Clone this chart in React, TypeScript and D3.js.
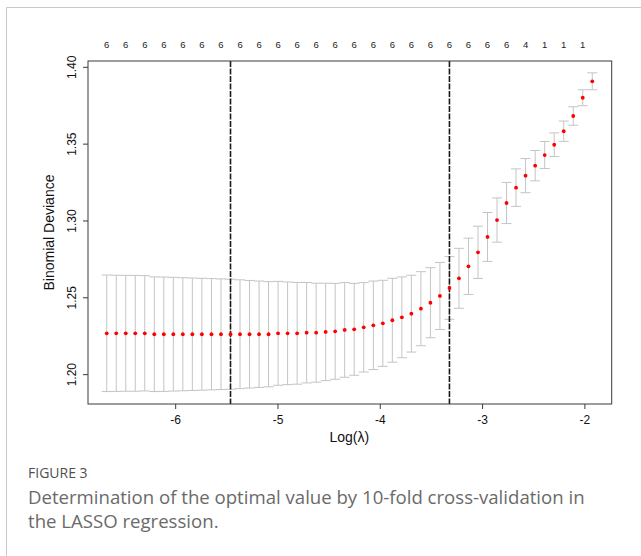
import { useEffect, useRef } from 'react';
import * as d3 from 'd3';

// log(lambda) grid of the cv.glmnet fit
const logLambda = [
  -6.674, -6.581, -6.488, -6.395, -6.302, -6.209, -6.116, -6.023, -5.93, -5.837,
  -5.744, -5.65, -5.557, -5.464, -5.371, -5.278, -5.185, -5.092, -4.999, -4.906,
  -4.813, -4.72, -4.627, -4.534, -4.441, -4.348, -4.255, -4.162, -4.068, -3.975,
  -3.882, -3.789, -3.696, -3.603, -3.51, -3.417, -3.324, -3.231, -3.138, -3.045,
  -2.952, -2.859, -2.766, -2.673, -2.58, -2.486, -2.393, -2.3, -2.207, -2.114,
  -2.021, -1.928,
];

// mean cross-validated binomial deviance
const cvm = [
  1.2269, 1.2269, 1.2269, 1.2269, 1.2269, 1.2263, 1.2263, 1.2263, 1.2263, 1.2263,
  1.2263, 1.2263, 1.2263, 1.2263, 1.2263, 1.2263, 1.2263, 1.2263, 1.2269, 1.2269,
  1.2269, 1.2273, 1.2273, 1.2278, 1.2282, 1.2291, 1.2295, 1.2308, 1.2321, 1.2334,
  1.2354, 1.2373, 1.2397, 1.2429, 1.2468, 1.2512, 1.2564, 1.2627, 1.2705, 1.2796,
  1.2896, 1.3006, 1.3117, 1.3217, 1.3295, 1.336, 1.3429, 1.3496, 1.3584, 1.3683,
  1.3802, 1.3909,
];

// standard error of the deviance (half bar height)
const cvsd = [
  0.0379, 0.0378, 0.0377, 0.0377, 0.0375, 0.0373, 0.0372, 0.037, 0.0368, 0.0366,
  0.0364, 0.0362, 0.036, 0.0358, 0.0354, 0.035, 0.0346, 0.0342, 0.0338, 0.0334,
  0.0331, 0.0327, 0.0322, 0.0317, 0.0312, 0.0308, 0.0299, 0.0291, 0.0288, 0.028,
  0.0273, 0.0263, 0.025, 0.0241, 0.0228, 0.0218, 0.0204, 0.0195, 0.0183, 0.017,
  0.0159, 0.0144, 0.0134, 0.0122, 0.0111, 0.0099, 0.0088, 0.0077, 0.0066, 0.006,
  0.0052, 0.0055,
];

// number of non-zero coefficients at each lambda
const nzero = [
  6, 6, 6, 6, 6, 6, 6, 6, 6, 6, 6, 6, 6, 6, 6, 6, 6, 6, 6, 6,
  6, 6, 6, 6, 6, 6, 6, 6, 6, 6, 6, 6, 6, 6, 6, 6, 6, 6, 6, 6,
  6, 6, 6, 5, 4, 3, 1, 1, 1, 1, 1, 1,
];

const xTicks = [-6, -5, -4, -3, -2];
const yTicks = [1.2, 1.25, 1.3, 1.35, 1.4];
const lambdaMin = -5.464;
const lambda1se = -3.324;

export default function App() {
  const ref = useRef<SVGSVGElement | null>(null);

  useEffect(() => {
    if (!ref.current) return;
    const svg = d3.select(ref.current);
    svg.selectAll('*').remove();

    const left = 88;
    const right = 611.7;
    const top = 61;
    const bottom = 404;
    const axisFont = 'Liberation Sans, Arial, sans-serif';

    const x = d3.scaleLinear().domain([-6.857, -1.738]).range([left, right]);
    const y = d3.scaleLinear().domain([1.1809, 1.4041]).range([bottom, top]);

    // outer figure frame
    svg.append('path')
      .attr('d', `M6.5,560 V7.5 H650`)
      .attr('fill', 'none')
      .attr('stroke', '#c9c9c9')
      .attr('stroke-width', 1);

    const g = svg.append('g');

    // error bars
    const capHalf = 5;
    logLambda.forEach((lx, i) => {
      const px = x(lx);
      const hi = y(cvm[i] + cvsd[i]);
      const lo = y(cvm[i] - cvsd[i]);
      g.append('line')
        .attr('x1', px).attr('x2', px)
        .attr('y1', hi).attr('y2', lo)
        .attr('stroke', '#c4c4c4')
        .attr('stroke-width', 1);
      [hi, lo].forEach((yy) => {
        g.append('line')
          .attr('x1', px - capHalf).attr('x2', px + capHalf)
          .attr('y1', yy).attr('y2', yy)
          .attr('stroke', '#c4c4c4')
          .attr('stroke-width', 1);
      });
    });

    // lambda.min and lambda.1se
    [lambdaMin, lambda1se].forEach((v) => {
      g.append('line')
        .attr('x1', x(v)).attr('x2', x(v))
        .attr('y1', top).attr('y2', bottom)
        .attr('stroke', '#1a1a1a')
        .attr('stroke-width', 1.6)
        .attr('stroke-dasharray', '6 1.5');
    });

    // mean points
    g.selectAll('circle.pt')
      .data(logLambda)
      .join('circle')
      .attr('class', 'pt')
      .attr('cx', (d) => x(d))
      .attr('cy', (_, i) => y(cvm[i]))
      .attr('r', 1.9)
      .attr('fill', '#ff0000');

    // box
    svg.append('rect')
      .attr('x', left).attr('y', top)
      .attr('width', right - left).attr('height', bottom - top)
      .attr('fill', 'none')
      .attr('stroke', '#3a3a3a')
      .attr('stroke-width', 1);

    // x axis
    xTicks.forEach((t) => {
      svg.append('line')
        .attr('x1', x(t)).attr('x2', x(t))
        .attr('y1', bottom).attr('y2', bottom + 5)
        .attr('stroke', '#3a3a3a');
      svg.append('text')
        .attr('x', x(t)).attr('y', 424)
        .attr('text-anchor', 'middle')
        .attr('font-family', axisFont)
        .attr('font-size', 12)
        .attr('fill', '#111')
        .text(t);
    });

    // y axis
    yTicks.forEach((t) => {
      svg.append('line')
        .attr('x1', left - 5).attr('x2', left)
        .attr('y1', y(t)).attr('y2', y(t))
        .attr('stroke', '#3a3a3a');
      svg.append('text')
        .attr('transform', `translate(76,${y(t)}) rotate(-90)`)
        .attr('text-anchor', 'middle')
        .attr('font-family', axisFont)
        .attr('font-size', 12)
        .attr('fill', '#111')
        .text(d3.format('.2f')(t));
    });

    // top labels: non-zero coefficient counts (every other one, as R skips overlaps)
    logLambda.forEach((lx, i) => {
      if (i % 2 !== 0) return;
      svg.append('text')
        .attr('x', x(lx)).attr('y', 47.5)
        .attr('text-anchor', 'middle')
        .attr('font-family', axisFont)
        .attr('font-size', 9.5)
        .attr('fill', '#222')
        .text(nzero[i]);
    });

    // axis titles
    svg.append('text')
      .attr('x', (left + right) / 2 - 0.5).attr('y', 442)
      .attr('text-anchor', 'middle')
      .attr('font-family', axisFont)
      .attr('font-size', 14)
      .attr('fill', '#111')
      .text('Log(λ)');

    svg.append('text')
      .attr('transform', `translate(54,${(top + bottom) / 2}) rotate(-90)`)
      .attr('text-anchor', 'middle')
      .attr('font-family', axisFont)
      .attr('font-size', 14)
      .attr('fill', '#111')
      .text('Binomial Deviance');

    // caption
    const cap = svg.append('g').attr('font-family', 'Open Sans, Lato, sans-serif');
    cap.append('text')
      .attr('x', 28).attr('y', 478)
      .attr('font-size', 14)
      .attr('fill', '#505050')
      .text('FIGURE 3');
    cap.append('text')
      .attr('x', 28).attr('y', 504)
      .attr('font-size', 18.6)
      .attr('fill', '#6a6a6a')
      .text('Determination of the optimal value by 10-fold cross-validation in');
    cap.append('text')
      .attr('x', 28).attr('y', 528)
      .attr('font-size', 18.6)
      .attr('fill', '#6a6a6a')
      .text('the LASSO regression.');
  }, []);

  return (
    <svg
      ref={ref}
      width={641}
      height={556}
      viewBox="0 0 641 556"
      style={{ position: 'absolute', left: 0, top: 0, background: '#fff' }}
    />
  );
}
